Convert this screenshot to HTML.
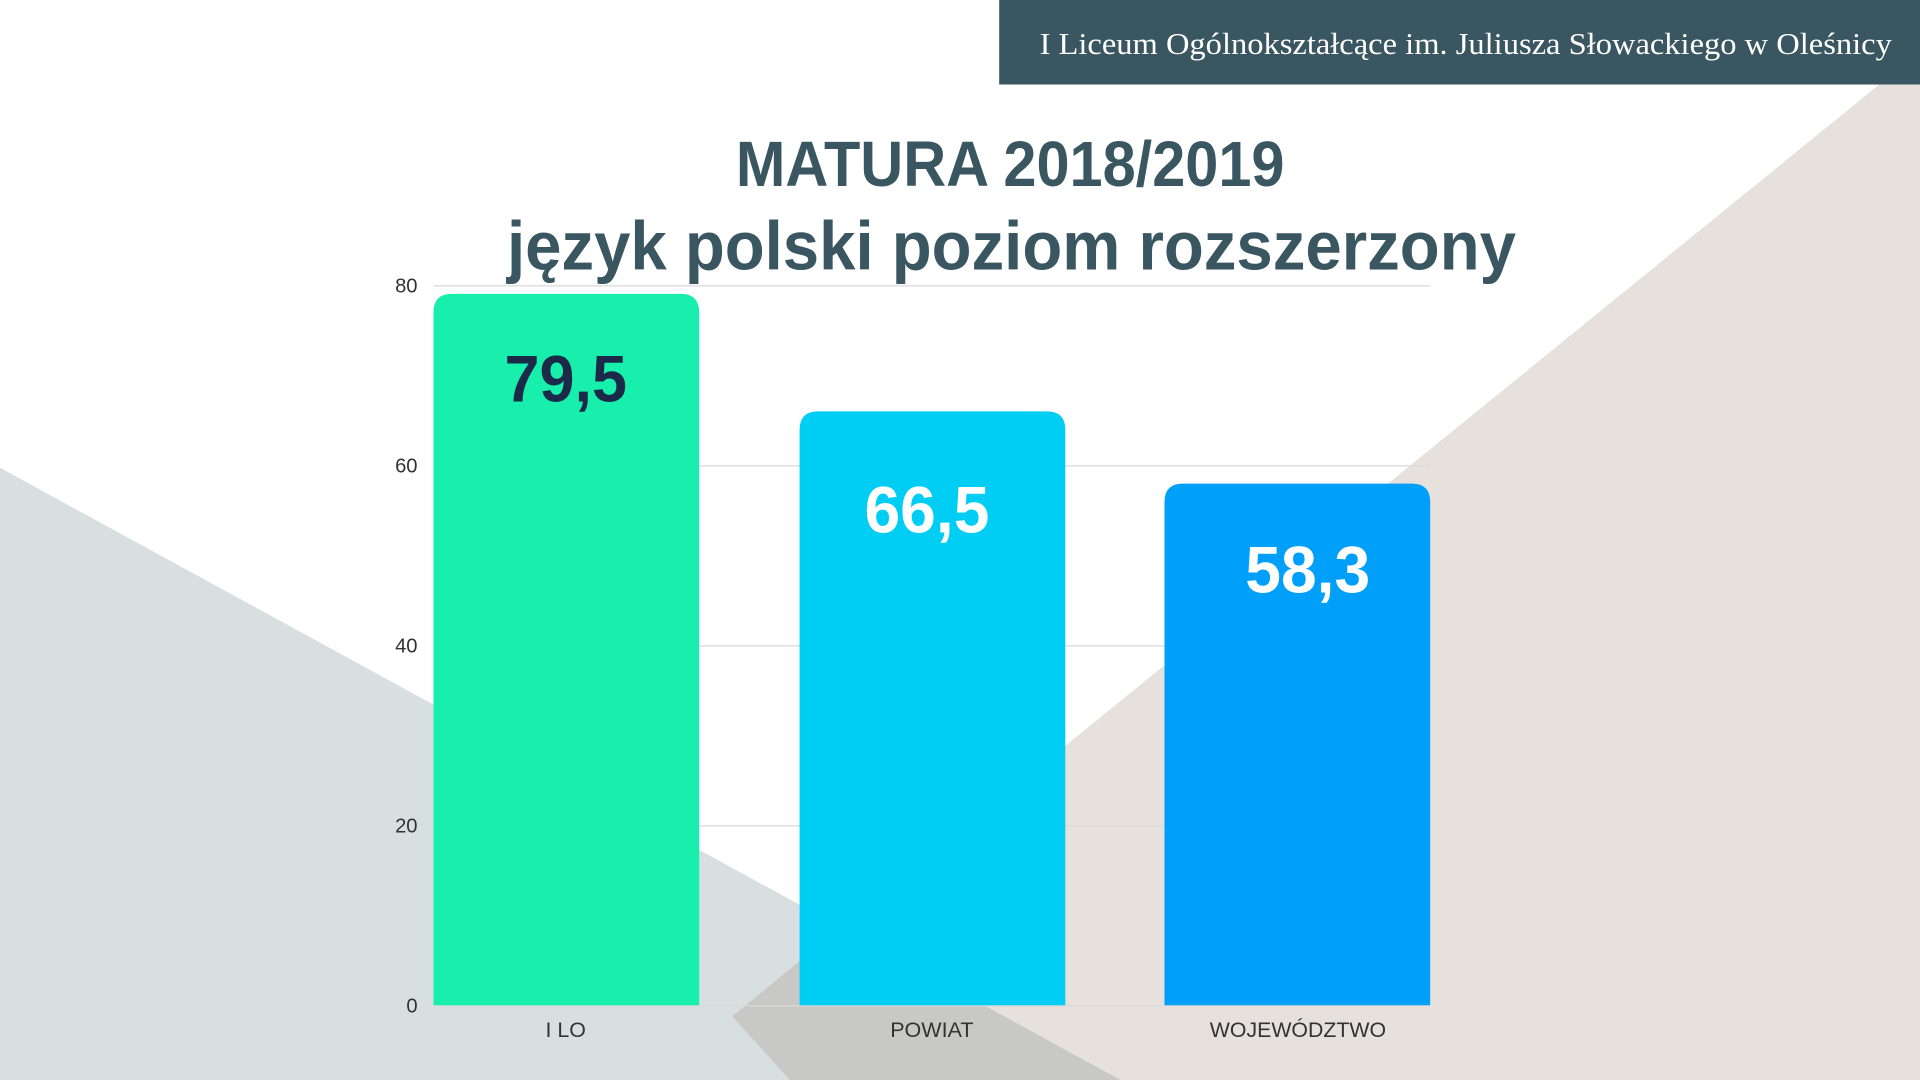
<!DOCTYPE html>
<html><head><meta charset="utf-8"><style>html,body{margin:0;padding:0;background:#fff}svg{display:block}</style></head>
<body>
<svg width="1920" height="1080" viewBox="0 0 1568 882" xmlns="http://www.w3.org/2000/svg" preserveAspectRatio="none">
<rect width="1568" height="882" fill="#fff"/>
<polygon points="0,382 915,882 0,882" fill="#d7dfe1"/>
<polygon points="1568,42 1568,882 645,882 598,830" fill="#e6e1dd"/>
<polygon points="598,830 687,757 915,882 645,882" fill="#c8c8c6"/>
<rect x="816" y="0" width="752" height="69" fill="#3a5660"/>
<text x="1545" y="44" text-anchor="end" font-family="Liberation Serif, serif" font-size="25" fill="#fff" textLength="696" lengthAdjust="spacingAndGlyphs">I Liceum Ogólnokształcące im. Juliusza Słowackiego w Oleśnicy</text>
<text x="825" y="152" text-anchor="middle" font-family="Liberation Sans, sans-serif" font-weight="bold" font-size="52" fill="#3a5660" textLength="448" lengthAdjust="spacingAndGlyphs">MATURA 2018/2019</text>
<text x="826" y="220" text-anchor="middle" font-family="Liberation Sans, sans-serif" font-weight="bold" font-size="56" fill="#3a5660" textLength="824" lengthAdjust="spacingAndGlyphs">język polski poziom rozszerzony</text>
<g stroke="#d9d9d9" stroke-width="1">
<line x1="354" x2="1168" y1="233.5" y2="233.5"/>
<line x1="354" x2="1168" y1="380.5" y2="380.5"/>
<line x1="354" x2="1168" y1="527.5" y2="527.5"/>
<line x1="354" x2="1168" y1="674.5" y2="674.5"/>
<line x1="354" x2="1168" y1="821.5" y2="821.5"/>
</g>
<g font-family="Liberation Sans, sans-serif" font-size="16.5" fill="#333" text-anchor="end">
<text x="341" y="239">80</text><text x="341" y="386">60</text><text x="341" y="533">40</text><text x="341" y="680">20</text><text x="341" y="827">0</text>
</g>
<path d="M354,821 V255 Q354,240 369,240 H556 Q571,240 571,255 V821 Z" fill="#19efad"/>
<path d="M653,821 V351 Q653,336 668,336 H855 Q870,336 870,351 V821 Z" fill="#00cdf4"/>
<path d="M951,821 V410 Q951,395 966,395 H1153 Q1168,395 1168,410 V821 Z" fill="#009ffa"/>
<g font-family="Liberation Sans, sans-serif" font-weight="bold" font-size="54" text-anchor="middle">
<text x="462" y="328" fill="#1b2a48" textLength="100" lengthAdjust="spacingAndGlyphs">79,5</text>
<text x="757" y="435" fill="#fff" textLength="102" lengthAdjust="spacingAndGlyphs">66,5</text>
<text x="1068" y="484" fill="#fff" textLength="102" lengthAdjust="spacingAndGlyphs">58,3</text>
</g>
<g font-family="Liberation Sans, sans-serif" font-size="17.5" fill="#333" text-anchor="middle">
<text x="462" y="847" textLength="33" lengthAdjust="spacingAndGlyphs">I LO</text><text x="761" y="847" textLength="68" lengthAdjust="spacingAndGlyphs">POWIAT</text><text x="1060" y="847" textLength="144" lengthAdjust="spacingAndGlyphs">WOJEWÓDZTWO</text>
</g>
</svg>
</body></html>
